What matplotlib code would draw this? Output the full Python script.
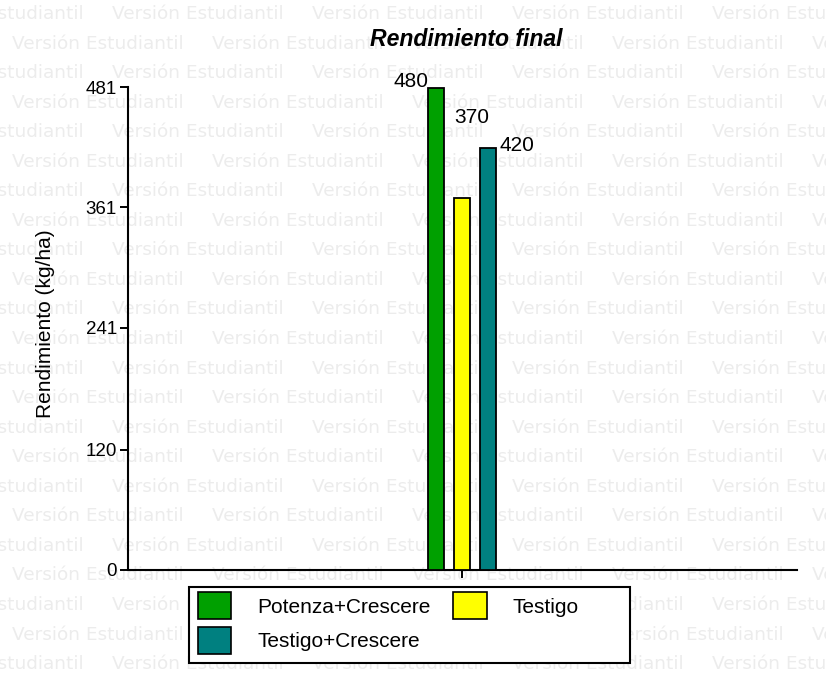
import matplotlib
matplotlib.use('Agg')
import matplotlib.pyplot as plt
from matplotlib.patches import Patch, Rectangle

# datos
tratamientos = ['Potenza+Crescere', 'Testigo', 'Testigo+Crescere']
rendimiento = [480, 370, 420]
colores = ['#00a000', '#ffff00', '#008080']
y_ticks = [0, 120, 241, 361, 481]
titulo = 'Rendimiento final'
eje_y = 'Rendimiento (kg/ha)'
marca_agua = 'Versión Estudiantil'

plt.rcParams['font.family'] = ['Liberation Sans', 'DejaVu Sans']

W, H = 826, 675
fig = plt.figure(figsize=(W / 100, H / 100), dpi=100)


def fx(px):
    return px / W


def fy(py):
    return 1 - py / H


# marca de agua de fondo
for fila in range(24):
    y = 14 + fila * 29.55
    x0 = 12 if fila % 2 else -88
    for k in range(6):
        fig.text(fx(x0 + 200 * k), fy(y), marca_agua, family='DejaVu Sans',
                 fontsize=13.3, color='#ececec', ha='left', va='center', zorder=-5)

ax = fig.add_axes([fx(128), fy(570), fx(797) - fx(128), fy(87) - fy(570)])
ax.set_facecolor('none')

# barras
posiciones = [-1, 0, 1]
barras = ax.bar(posiciones, rendimiento, width=0.64, color=colores,
                edgecolor='black', linewidth=1.3, zorder=3)

ax.set_xlim(-12.85, 12.88)
ax.set_ylim(0, y_ticks[-1])
ax.set_yticks(y_ticks)
ax.set_yticklabels([str(v) for v in y_ticks])
ax.set_xticks([0])
ax.set_xticklabels([''])

for lado in ['top', 'right']:
    ax.spines[lado].set_visible(False)
for lado in ['left', 'bottom']:
    ax.spines[lado].set_linewidth(1.5)
ax.tick_params(axis='both', length=6, width=1.4, labelsize=13.5, pad=2, direction='out')

# etiquetas de valores (posición como en el original)
desplaz = [(1, 1, 'right'), (0, 75, 'left'), (3, -3, 'left')]
for b, v, (dx, dy, ha) in zip(barras, rendimiento, desplaz):
    x = b.get_x() if ha == 'right' or dy > 10 else b.get_x() + b.get_width()
    ax.annotate(str(v), (x, v), xytext=(dx, dy), textcoords='offset pixels',
                ha=ha, va='baseline', fontsize=15, zorder=4)

fig.text(fx(466), fy(40), titulo, ha='center', va='center',
         fontsize=16.6, weight='bold', style='italic')
fig.text(fx(46), fy(324), eje_y, rotation=90, ha='center', va='center', fontsize=15)

# leyenda con recuadro propio
fig.add_artist(Rectangle((fx(189), fy(663)), fx(630) - fx(189), fy(587) - fy(663),
                         transform=fig.transFigure, facecolor='white',
                         edgecolor='black', linewidth=1.5, zorder=4))
orden = [0, 2, 1]
handles = [Patch(facecolor=colores[i], edgecolor='black', linewidth=1.2) for i in orden]
fig.legend(handles, [tratamientos[i] for i in orden], ncol=2, frameon=False,
           loc='upper left', bbox_to_anchor=(fx(198), fy(592)),
           bbox_transform=fig.transFigure, borderpad=0, borderaxespad=0,
           fontsize=15, handlelength=1.6, handleheight=1.65,
           handletextpad=1.25, columnspacing=1.08, labelspacing=0.34)

plt.savefig('out.png', dpi=100)
plt.close()
